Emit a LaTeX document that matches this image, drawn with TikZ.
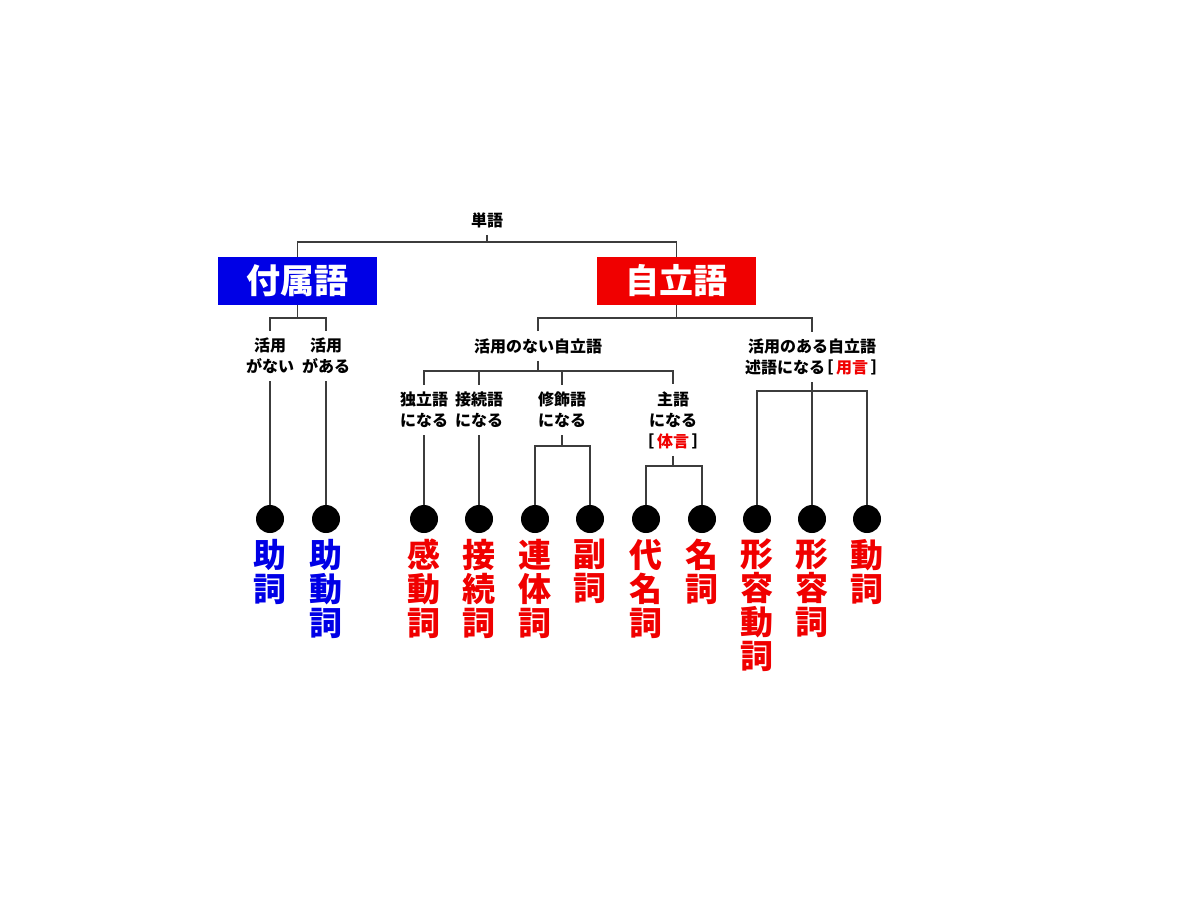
\documentclass[tikz,border=0pt]{standalone}
\usepackage{fontspec}
\usepackage{xcolor}
\usepackage{tikz}

\newfontfamily\jp[BoldFont={Noto Sans CJK JP Black}]{Noto Sans CJK JP}
\newfontfamily\jpbr[RawFeature=+palt, BoldFont={Noto Sans CJK JP Black}]{Noto Sans CJK JP}
\newcommand{\kakkoL}{{\jpbr\bfseries ［}\hspace{3pt}}
\newcommand{\kakkoR}{\hspace{3pt}{\jpbr\bfseries ］}}

\definecolor{fuzokublue}{RGB}{0,0,230}
\definecolor{jiritsured}{RGB}{240,0,0}
\definecolor{treegray}{RGB}{60,60,60}

\begin{document}
\begin{tikzpicture}[x=1pt, y=-1pt,
    tree/.style={draw=treegray, line width=1.1pt},
    smalltxt/.style={font=\jp\bfseries\fontsize{16}{21}\selectfont, align=center, inner xsep=0pt, inner ysep=7pt},
    kindbox/.style={minimum width=159pt, minimum height=48pt, inner sep=0pt, text=white, font=\jp\bfseries\fontsize{34}{34}\selectfont},
    ball/.style={circle, fill=black, minimum size=28pt, inner sep=0pt},
    hinshi/.style={anchor=north, align=center, inner sep=0pt, font=\jp\bfseries\fontsize{33}{34}\selectfont}]
            \useasboundingbox (0,0) rectangle (1202,910);

            \node[smalltxt] (tango) at (487, 220) {単語};
            \node[kindbox, fill=fuzokublue] (fuzoku) at (297.5, 281) {付属語};
            \node[kindbox, fill=jiritsured] (jiritsu) at (676.5, 281) {自立語};

            \node[smalltxt] (nashi) at (270, 356) {活用\\がない};
            \node[smalltxt] (ari) at (326, 356) {活用\\がある};
            \node[smalltxt] (naijiritsu) at (538, 346) {活用のない自立語};
            \node[smalltxt] (arujiritsu) at (812, 357) {活用のある自立語\\述語になる\kakkoL\textcolor{jiritsured}{用言}\kakkoR};
            \node[smalltxt] (dokuritsu) at (424, 410) {独立語\\になる};
            \node[smalltxt] (setsuzoku) at (479, 410) {接続語\\になる};
            \node[smalltxt] (shushoku) at (562, 410) {修飾語\\になる};
            \node[smalltxt] (shugo) at (673, 420) {主語\\になる\\\kakkoL\textcolor{jiritsured}{体言}\kakkoR};

            % balls
            \node[ball] (joshi) at (270, 519) {};
            \node[ball] (jodoushi) at (326, 519) {};
            \node[ball] (kandoushi) at (424, 519) {};
            \node[ball] (setsuzokushi) at (479, 519) {};
            \node[ball] (rentaishi) at (535, 519) {};
            \node[ball] (fukushi) at (590, 519) {};
            \node[ball] (daimeishi) at (646, 519) {};
            \node[ball] (meishi) at (702, 519) {};
            \node[ball] (keiyoudoushi) at (757, 519) {};
            \node[ball] (keiyoushi) at (812, 519) {};
            \node[ball] (doushi) at (867, 519) {};

            % names of the parts of speech
            \node[hinshi, text=fuzokublue] at (joshi.south |- 0,539) {助\\詞};
            \node[hinshi, text=fuzokublue] at (jodoushi.south |- 0,539) {助\\動\\詞};
            \node[hinshi, text=jiritsured] at (kandoushi.south |- 0,539) {感\\動\\詞};
            \node[hinshi, text=jiritsured] at (setsuzokushi.south |- 0,539) {接\\続\\詞};
            \node[hinshi, text=jiritsured] at (rentaishi.south |- 0,539) {連\\体\\詞};
            \node[hinshi, text=jiritsured] at (fukushi.south |- 0,539) {副\\詞};
            \node[hinshi, text=jiritsured] at (daimeishi.south |- 0,539) {代\\名\\詞};
            \node[hinshi, text=jiritsured] at (meishi.south |- 0,539) {名\\詞};
            \node[hinshi, text=jiritsured] at (keiyoudoushi.south |- 0,539) {形\\容\\動\\詞};
            \node[hinshi, text=jiritsured] at (keiyoushi.south |- 0,539) {形\\容\\詞};
            \node[hinshi, text=jiritsured] at (doushi.south |- 0,539) {動\\詞};

            % forks
            \coordinate (b0) at (487, 242);
            \coordinate (b1) at (297.5, 318);
            \coordinate (b2) at (676.5, 318);
            \coordinate (b3) at (538, 371);
            \coordinate (b4) at (562, 446);
            \coordinate (b5) at (673, 466);
            \coordinate (b6) at (812, 391);

            \draw[tree] (tango.south) -- (b0); % tango
            \draw[tree] (fuzoku.north) |- (b0) -| (jiritsu.north);
            \draw[tree] (fuzoku.south) -- (b1); % fuzokugo
            \draw[tree] (nashi.north) |- (b1) -| (ari.north);
            \draw[tree] (jiritsu.south) -- (b2); % jiritsugo
            \draw[tree] (naijiritsu.north) |- (b2) -| (arujiritsu.north);
            \draw[tree] (naijiritsu.south) -- (b3); % katsuyou nashi
            \draw[tree] (dokuritsu.north) |- (b3) -| (shugo.north);
            \draw[tree] (setsuzoku.north) -- (setsuzoku.north |- b3);
            \draw[tree] (shushoku.north) -- (shushoku.north |- b3);
            \draw[tree] (nashi.south) -- (joshi);
            \draw[tree] (ari.south) -- (jodoushi);
            \draw[tree] (dokuritsu.south) -- (kandoushi);
            \draw[tree] (setsuzoku.south) -- (setsuzokushi);
            \draw[tree] (shushoku.south) -- (b4); % shushokugo
            \draw[tree] (rentaishi.north) |- (b4) -| (fukushi.north);
            \draw[tree] (shugo.south) -- (b5); % shugo
            \draw[tree] (daimeishi.north) |- (b5) -| (meishi.north);
            \draw[tree] (arujiritsu.south) -- (keiyoushi); % katsuyou ari
            \draw[tree] (keiyoudoushi.north) |- (b6) -| (doushi.north);
        \end{tikzpicture}
\end{document}
